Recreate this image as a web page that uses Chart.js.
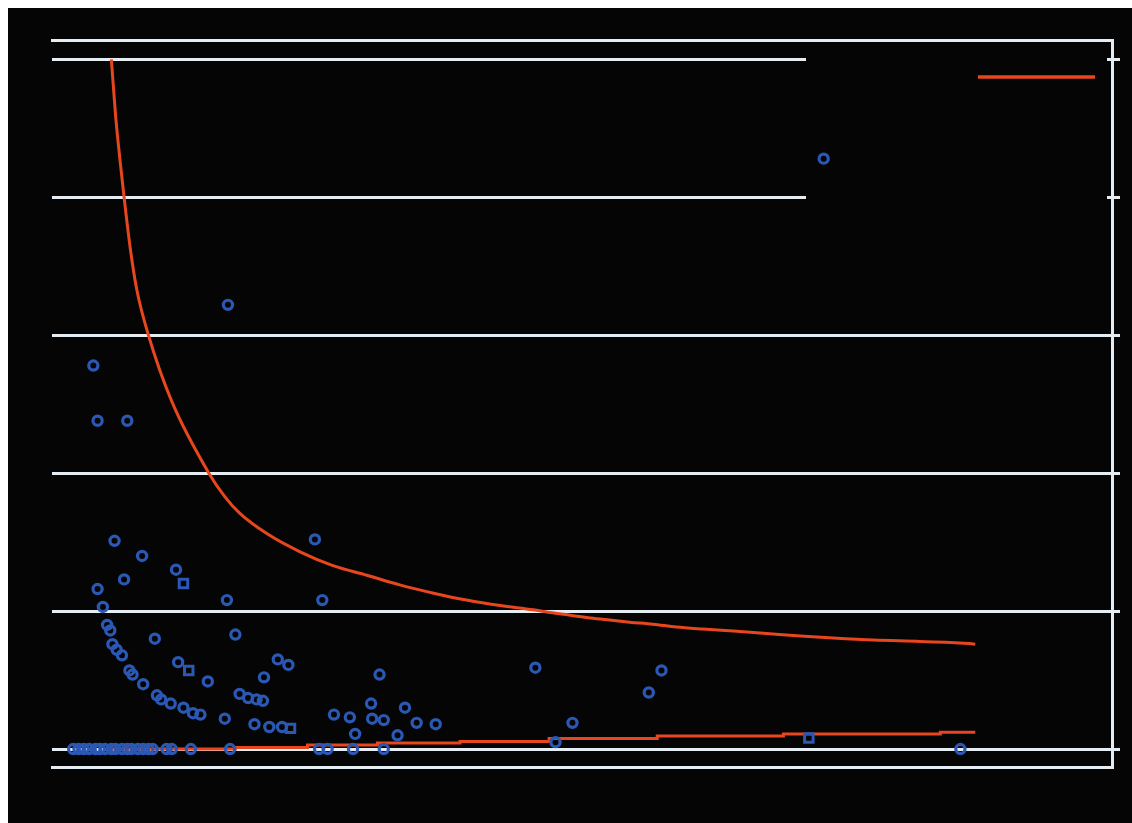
<!DOCTYPE html>
<html>
<head>
<meta charset="utf-8">
<title>Funnel plot</title>
<script src="https://cdn.jsdelivr.net/npm/chart.js@4.4.1/dist/chart.umd.min.js"></script>
<style>
  body { margin: 0; background: #ffffff; }
  #caixa { position: absolute; left: 8px; top: 8px; width: 1124px; height: 815px; background: #050505; }
</style>
</head>
<body>
<div id="caixa">
  <canvas id="funil" width="1124" height="815"></canvas>
</div>
<script>
// volume (n) x taxa (%) de cada unidade
const pontosN = [20, 25, 30, 35, 41, 45, 50, 56, 60, 66, 71, 75, 81, 86, 91, 95,
  108, 113, 131, 168, 252, 260, 284, 313, 857,
  39, 43, 71, 166, 728, 248, 59, 85, 68, 117, 43, 165, 255, 48, 52, 55, 97, 173,
  57, 61, 66, 119, 73, 76, 147, 86, 99, 103, 112, 124, 133, 140, 163,
  177, 185, 193, 199, 191, 205, 217, 213, 223, 200,
  309, 266, 281, 301, 302, 313, 333, 344, 362, 286, 326,
  456, 491, 475, 575, 563];
const pontosTaxa = [0, 0, 0, 0, 0, 0, 0, 0, 0, 0, 0, 0, 0, 0, 0, 0,
  0, 0, 0, 0, 0, 0, 0, 0, 0,
  27.8, 23.8, 23.8, 32.2, 42.8, 15.2, 15.1, 14.0, 12.3, 13.0, 11.6, 10.8, 10.8, 10.3, 9.0, 8.6, 8.0, 8.3,
  7.6, 7.2, 6.8, 6.3, 5.7, 5.4, 4.9, 4.7, 3.9, 3.6, 3.3, 3.0, 2.6, 2.5, 2.2,
  4.0, 3.7, 3.6, 3.5, 1.8, 1.6, 1.6, 6.5, 6.1, 5.2,
  5.4, 2.5, 2.3, 3.3, 2.2, 2.1, 3.0, 1.9, 1.8, 1.1, 1.0,
  5.9, 1.9, 0.5, 5.7, 4.1];

// unidades marcadas com quadrado
const quadN = [124, 129, 225, 714];
const quadTaxa = [12.0, 5.7, 1.5, 0.8];

// limite superior do funil
const superiorN = [56, 60, 64, 68, 74, 80, 91, 113, 148, 163, 177, 203, 234, 265, 297,
  328, 360, 391, 423, 454, 470, 489, 508, 526, 545, 567, 589, 614, 643, 671, 706, 737, 775, 819, 866, 871];
const superiorTaxa = [50.0, 45.9, 42.8, 40.0, 36.2, 33.3, 30.0, 25.2, 20.0, 18.3, 17.1, 15.6, 14.3, 13.3, 12.6,
  11.9, 11.3, 10.8, 10.4, 10.1, 9.9, 9.7, 9.5, 9.35, 9.2, 9.05, 8.85, 8.7, 8.55, 8.4, 8.2, 8.05, 7.9, 7.8, 7.65, 7.6];

// limite inferior do funil (em degraus)
const inferiorN = [55, 173, 241, 307, 385, 469, 571, 690, 838, 871];
const inferiorTaxa = [0, 0.11, 0.29, 0.44, 0.54, 0.76, 0.94, 1.09, 1.21, 1.21];

const yPasso = 10;

const azul = '#2a58b4';
const vermelho = '#e8461e';
const branco = '#e6edf2';

function juntar(xs, ys) {
  return xs.map((x, i) => ({ x: x, y: ys[i] }));
}

// caixa da legenda (fundo preto sobre a grade, amostra da linha)
const caixaLegenda = {
  id: 'caixaLegenda',
  beforeDatasetsDraw(chart) {
    const ctx = chart.ctx;
    ctx.save();
    ctx.fillStyle = '#050505';
    ctx.fillRect(798, 38, 301, 170);
    ctx.strokeStyle = chart.data.datasets[2].borderColor;
    ctx.lineWidth = 3.5;
    ctx.beginPath();
    ctx.moveTo(970, 69);
    ctx.lineTo(1087, 69);
    ctx.stroke();
    ctx.restore();
  }
};

new Chart(document.getElementById('funil'), {
  type: 'scatter',
  data: {
    datasets: [
      {
        label: 'Unidades',
        data: juntar(pontosN, pontosTaxa),
        pointStyle: 'circle',
        pointRadius: 4.6,
        borderWidth: 3.2,
        borderColor: azul,
        backgroundColor: 'rgba(0,0,0,0)'
      },
      {
        label: 'Unidades (quadrado)',
        data: juntar(quadN, quadTaxa),
        pointStyle: 'rect',
        pointRadius: 6,
        borderWidth: 3,
        borderColor: azul,
        backgroundColor: 'rgba(0,0,0,0)'
      },
      {
        label: 'Limite superior',
        data: juntar(superiorN, superiorTaxa),
        showLine: true,
        pointRadius: 0,
        borderWidth: 3,
        borderColor: vermelho,
        cubicInterpolationMode: 'monotone'
      },
      {
        label: 'Limite inferior',
        data: juntar(inferiorN, inferiorTaxa),
        showLine: true,
        stepped: true,
        pointRadius: 0,
        borderWidth: 3,
        borderColor: vermelho
      }
    ]
  },
  options: {
    responsive: false,
    animation: false,
    devicePixelRatio: 1,
    layout: {
      padding: { left: 44, top: 24, right: 12, bottom: 48 }
    },
    plugins: {
      legend: { display: false },
      tooltip: { enabled: false }
    },
    scales: {
      x: {
        type: 'linear',
        position: 'bottom',
        min: 0,
        max: 1000,
        ticks: { display: false },
        grid: { display: false },
        border: { display: true, color: branco, width: 3 }
      },
      xTopo: {
        type: 'linear',
        position: 'top',
        min: 0,
        max: 1,
        ticks: { display: false },
        grid: { display: false },
        border: { display: true, color: branco, width: 3 }
      },
      y: {
        position: 'right',
        min: -1.3,
        max: 51.4,
        ticks: { display: false, stepSize: yPasso, includeBounds: false },
        grid: { color: branco, lineWidth: 3, tickLength: 8, drawTicks: true },
        border: { display: true, color: branco, width: 3 }
      }
    }
  },
  plugins: [caixaLegenda]
});
</script>
</body>
</html>
